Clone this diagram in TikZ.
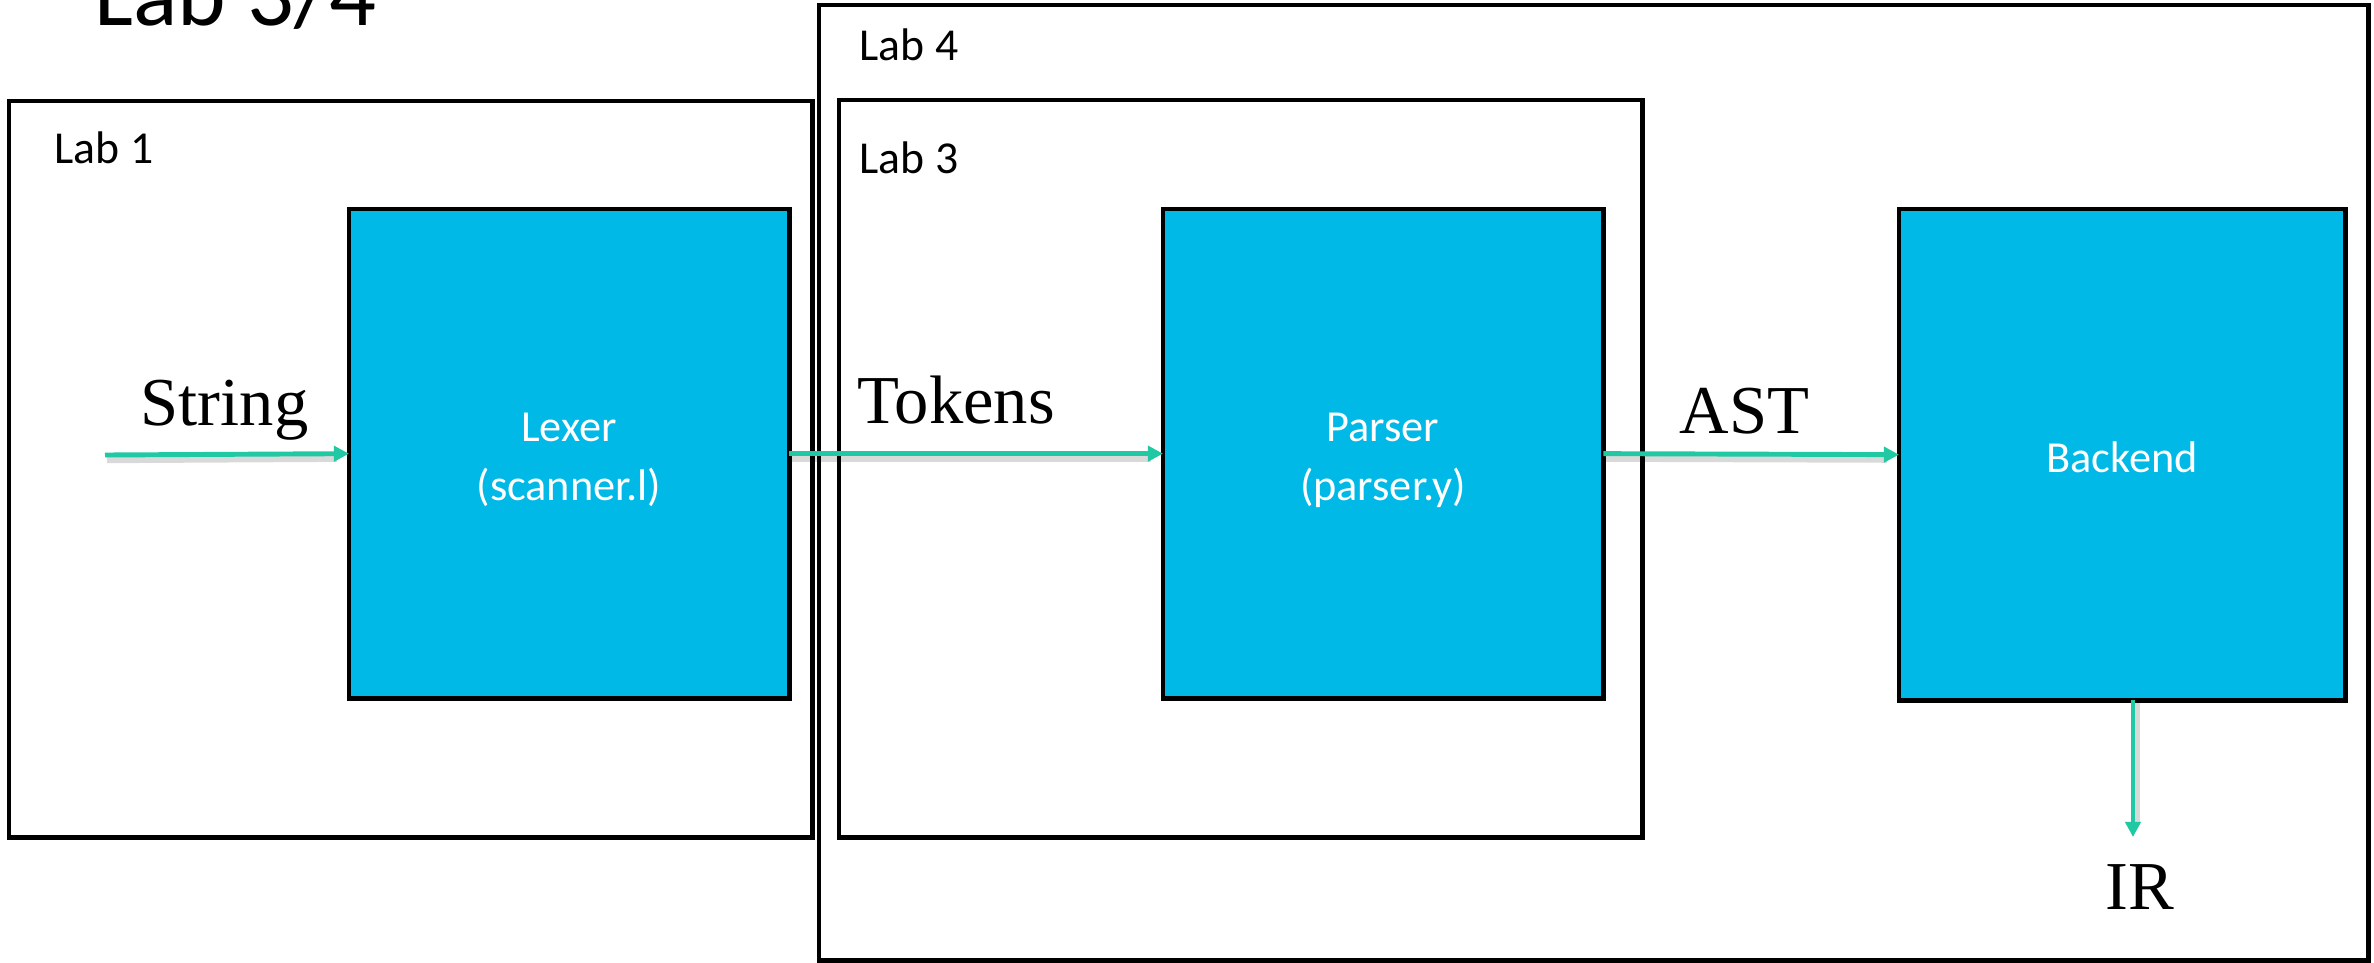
\documentclass[tikz,border=0pt]{standalone}
\usepackage{fontspec}
\setmainfont{Liberation Serif}
\newfontfamily\calfont{Carlito}
\usetikzlibrary{arrows.meta}
\definecolor{boxblue}{HTML}{00B9E6}
\definecolor{flowteal}{HTML}{20C8A4}
\begin{document}
\begin{tikzpicture}[x=0.01cm,y=-0.01cm,
  labbox/.style={draw=black,line width=1.4pt,inner sep=0pt,outer sep=0pt,anchor=north west},
  stagebox/.style={draw=black,fill=boxblue,line width=1.4pt,inner sep=0pt,outer sep=0pt,anchor=north west},
  stagetext/.style={text=white,font=\calfont\fontsize{12.6pt}{16pt}\selectfont,inner sep=0pt,anchor=base},
  labtext/.style={font=\calfont\fontsize{13pt}{16pt}\selectfont,inner sep=0pt,anchor=base west},
  flowtext/.style={font=\fontsize{19.5pt}{23pt}\selectfont,inner sep=0pt,anchor=base west},
  flow/.style={draw=flowteal,line width=1.4pt,-{Triangle[length=4.3pt,width=4.3pt]}},
  flowshadow/.style={draw=black,opacity=0.15,line width=1.8pt,shorten >=4pt}
]
\useasboundingbox (0,0) rectangle (2374,963);

% title
\node[font=\calfont\fontsize{26.3pt}{32pt}\selectfont,inner sep=0pt,anchor=base west] (title) at (94,25) {Lab 3/4};

% lab frames
\node[labbox,minimum width=8.03cm,minimum height=7.36cm] (lab1) at (9,101) {};
\node[labbox,minimum width=15.49cm,minimum height=9.55cm] (lab4) at (819,5) {};
\node[labbox,minimum width=8.03cm,minimum height=7.37cm] (lab3) at (839,100) {};

\node[labtext] (lab1t) at (54,163) {Lab 1};
\node[labtext] (lab4t) at (859,60) {Lab 4};
\node[labtext] (lab3t) at (859,173) {Lab 3};

% stages
\node[stagebox,minimum width=4.40cm,minimum height=4.89cm] (lexer) at (349,209) {};
\node[stagebox,minimum width=4.40cm,minimum height=4.89cm] (parser) at (1163,209) {};
\node[stagebox,minimum width=4.46cm,minimum height=4.91cm] (backend) at (1899,209) {};

\node[stagetext] (lexer1) at (569,441) {Lexer};
\node[stagetext] (lexer2) at (569,500) {(scanner.l)};
\node[stagetext] (parser1) at (1383,441) {Parser};
\node[stagetext] (parser2) at (1383,500) {(parser.y)};
\node[stagetext] (backend1) at (2122,472) {Backend};

% flow labels
\node[flowtext] (stringt) at (140,425) {String};
\node[flowtext] (tokenst) at (857,423) {Tokens};
\node[flowtext] (astt) at (1679,433) {AST};
\node[flowtext] (irt) at (2105,909) {IR};

% connectors
\coordinate (sstart) at (105,455);
\coordinate (irend) at (2133,837);
\coordinate (irstart) at (2133,700);

\draw[flowshadow] ([shift={(2,5)}]sstart) -- ([shift={(2,5)}]lexer.west);
\draw[flowshadow] ([shift={(2,5)}]lexer.east) -- ([shift={(2,5)}]parser.west);
\draw[flowshadow] ([shift={(2,5)}]parser.east) -- ([shift={(2,5)}]backend.west);
\draw[flowshadow] ([shift={(4,2)}]irstart) -- ([shift={(4,2)}]irend);

\draw[flow] (sstart) -- (lexer.west);
\draw[flow] (lexer.east) -- (parser.west);
\draw[flow] (parser.east) -- (backend.west);
\draw[flow] (irstart) -- (irend);
\end{tikzpicture}
\end{document}
